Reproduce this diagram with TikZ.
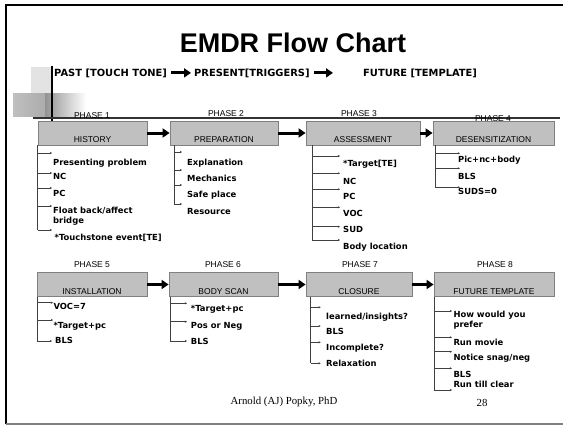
\documentclass[tikz,border=0pt]{standalone}
\usepackage{fontspec}
\setmainfont{Liberation Serif}
\newfontfamily\verdanafont{DejaVu Sans}
\newfontfamily\tahomafont{Liberation Sans}
\usetikzlibrary{arrows.meta,positioning}

\definecolor{boxgray}{RGB}{192,192,192}
\definecolor{edgegray}{RGB}{128,128,128}

\tikzset{
  phasebox/.style={draw=edgegray, fill=boxgray, line width=0.8pt, minimum height=24pt,
    inner xsep=0pt, inner ysep=2.5pt, text height=19pt, text depth=0pt,
    font=\tahomafont\fontsize{8.5}{10}\selectfont},
  phaselabel/.style={inner sep=0pt, font=\tahomafont\fontsize{8.5}{10}\selectfont},
  subtitle/.style={anchor=base west, inner sep=0pt, font=\verdanafont\bfseries\fontsize{9.9}{12}\selectfont},
  item/.style={anchor=base west, inner sep=0pt, align=left,
    font=\verdanafont\bfseries\fontsize{8.4}{10}\selectfont},
  trunk/.style={draw=black!75, line width=0.7pt},
  branch/.style={trunk, -{Stealth[length=2.2pt,width=2.2pt]}},
  flow/.style={line width=3pt, -{Triangle[length=7pt,width=9pt]}},
}

\begin{document}
\begin{tikzpicture}[x=1pt, y=-1pt]
  \useasboundingbox (0,0) rectangle (563,426);

  % slide frame and corner decoration
  \draw[line width=2pt] (6,424) -- (6,5) -- (563,5);
  \draw[edgegray, line width=1.5pt] (6,424) -- (563,424);
  \fill[gray!22] (31,67) rectangle (53,93);
  \shade[left color=gray!50, right color=gray!65] (13,93) rectangle (45,116);
  \shade[left color=gray!85, right color=white] (45,93) rectangle (86,117);
  \draw[line width=1.2pt] (52,66) -- (52,123);
  \draw[black!80, line width=2pt] (33,118) -- (560,118);

  % title
  \node[font=\tahomafont\bfseries\fontsize{27}{30}\selectfont] (title) at (293,43) {EMDR Flow Chart};

  \node[subtitle] (tpast) at (54,76) {PAST [TOUCH TONE]};
  \node[subtitle] (tpresent) at (194,76) {PRESENT[TRIGGERS]};
  \node[subtitle] (tfuture) at (363,76) {FUTURE [TEMPLATE]};
  \draw[flow, shorten <=4pt, shorten >=3pt] (tpast) -- (tpresent);
  \draw[flow, shorten <=4pt, shorten >=30pt] (tpresent) -- (tfuture);

  % phases
  \node[phaselabel] (ph1) at (92,116) {PHASE 1};
  \node[phaselabel] (ph2) at (226,114) {PHASE 2};
  \node[phaselabel] (ph3) at (359,114) {PHASE 3};
  \node[phaselabel] (ph4) at (493,119) {PHASE 4};
  \node[phaselabel] (ph5) at (92,265) {PHASE 5};
  \node[phaselabel] (ph6) at (223,265) {PHASE 6};
  \node[phaselabel] (ph7) at (360,265) {PHASE 7};
  \node[phaselabel] (ph8) at (495,265) {PHASE 8};

  \node[phasebox, minimum width=109pt] (history) at (92.5,133) {HISTORY};
  \node[phasebox, minimum width=108pt] (prep) at (224,133) {PREPARATION};
  \node[phasebox, minimum width=114pt] (assess) at (363,133) {ASSESSMENT};
  \node[phasebox, minimum width=121pt] (desens) at (493.5,133) {DESENSITIZATION};
  \node[phasebox, minimum width=110pt] (install) at (92,284.5) {INSTALLATION};
  \node[phasebox, minimum width=109pt] (bodyscan) at (223.5,284.5) {BODY SCAN};
  \node[phasebox, minimum width=106pt] (closure) at (359,284.5) {CLOSURE};
  \node[phasebox, minimum width=120pt] (template) at (494,284.5) {FUTURE TEMPLATE};

  \draw[flow] (history) -- (prep);
  \draw[flow] (prep) -- (assess);
  \draw[flow] (assess) -- (desens);
  \draw[flow] (install) -- (bodyscan);
  \draw[flow] (bodyscan) -- (closure);
  \draw[flow] (closure) -- (template);

  % phase 1
  \coordinate (t1) at (37.5,145);
  \node[item] (h1) at (53,165.3) {Presenting problem};  \coordinate (h1b) at (52,153);
  \node[item] (h2) at (53,179.7) {NC};                  \coordinate (h2b) at (52,173);
  \node[item] (h3) at (53,196.3) {PC};                  \coordinate (h3b) at (52,188);
  \node[item] (h4) at (53,223) {Float back/affect\\bridge}; \coordinate (h4b) at (52,206);
  \node[item] (h5) at (54.5,240.7) {*Touchstone event[TE]}; \coordinate (h5b) at (52,230);
  \draw[trunk] (t1) -- (t1 |- h5b);
  \draw[branch] (t1 |- h1b) -- (h1b);
  \draw[branch] (t1 |- h2b) -- (h2b);
  \draw[branch] (t1 |- h3b) -- (h3b);
  \draw[branch] (t1 |- h4b) -- (h4b);
  \draw[branch] (t1 |- h5b) -- (h5b);

  % phase 2
  \coordinate (t2) at (174,145);
  \node[item] (p1) at (187,165) {Explanation};  \coordinate (p1b) at (182,152);
  \node[item] (p2) at (187,181) {Mechanics};    \coordinate (p2b) at (182,170);
  \node[item] (p3) at (187,197) {Safe place};   \coordinate (p3b) at (182,185);
  \node[item] (p4) at (187,214) {Resource};     \coordinate (p4b) at (182,204);
  \draw[trunk] (t2) -- (t2 |- p4b);
  \draw[branch] (t2 |- p1b) -- (p1b);
  \draw[branch] (t2 |- p2b) -- (p2b);
  \draw[branch] (t2 |- p3b) -- (p3b);
  \draw[branch] (t2 |- p4b) -- (p4b);

  % phase 3
  \coordinate (t3) at (312,145);
  \node[item] (a1) at (343,166.3) {*Target[TE]};   \coordinate (a1b) at (340,156);
  \node[item] (a2) at (343,184) {NC};              \coordinate (a2b) at (340,173.3);
  \node[item] (a3) at (343,199.7) {PC};            \coordinate (a3b) at (340,189.3);
  \node[item] (a4) at (343,216.3) {VOC};           \coordinate (a4b) at (340,207.3);
  \node[item] (a5) at (343,232.3) {SUD};           \coordinate (a5b) at (340,226.7);
  \node[item] (a6) at (343,249) {Body location};   \coordinate (a6b) at (340,240);
  \draw[trunk] (t3) -- (t3 |- a6b);
  \draw[branch] (t3 |- a1b) -- (a1b);
  \draw[branch] (t3 |- a2b) -- (a2b);
  \draw[branch] (t3 |- a3b) -- (a3b);
  \draw[branch] (t3 |- a4b) -- (a4b);
  \draw[branch] (t3 |- a5b) -- (a5b);
  \draw[branch] (t3 |- a6b) -- (a6b);

  % phase 4
  \coordinate (t4) at (435,145);
  \node[item] (d1) at (458,162.3) {Pic+nc+body};  \coordinate (d1b) at (460,153.3);
  \node[item] (d2) at (458,179.7) {BLS};          \coordinate (d2b) at (460,168.3);
  \node[item] (d3) at (458,194.7) {SUDS=0};       \coordinate (d3b) at (460,187.3);
  \draw[trunk] (t4) -- (t4 |- d3b);
  \draw[branch] (t4 |- d1b) -- (d1b);
  \draw[branch] (t4 |- d2b) -- (d2b);
  \draw[branch] (t4 |- d3b) -- (d3b);

  % phase 5
  \coordinate (t5) at (37.3,296.5);
  \node[item] (i1) at (53.3,309.7) {VOC=7};       \coordinate (i1b) at (53,302.7);
  \node[item] (i2) at (53.3,328) {*Target+pc};    \coordinate (i2b) at (53,320);
  \node[item] (i3) at (55,343) {BLS};             \coordinate (i3b) at (52,341);
  \draw[trunk] (t5) -- (t5 |- i3b);
  \draw[branch] (t5 |- i1b) -- (i1b);
  \draw[branch] (t5 |- i2b) -- (i2b);
  \draw[branch] (t5 |- i3b) -- (i3b);

  % phase 6
  \coordinate (t6) at (170,296.5);
  \node[item] (s1) at (190.7,311.3) {*Target+pc};  \coordinate (s1b) at (187,303.3);
  \node[item] (s2) at (190.7,328) {Pos or Neg};    \coordinate (s2b) at (187,321.7);
  \node[item] (s3) at (190.7,344) {BLS};           \coordinate (s3b) at (187,341);
  \draw[trunk] (t6) -- (t6 |- s3b);
  \draw[branch] (t6 |- s1b) -- (s1b);
  \draw[branch] (t6 |- s2b) -- (s2b);
  \draw[branch] (t6 |- s3b) -- (s3b);

  % phase 7
  \coordinate (t7) at (310.7,296.5);
  \node[item] (c1) at (326,319) {learned/insights?};  \coordinate (c1b) at (320.7,307.3);
  \node[item] (c2) at (326,334) {BLS};                \coordinate (c2b) at (320.7,326);
  \node[item] (c3) at (326,350.7) {Incomplete?};      \coordinate (c3b) at (320.7,342.3);
  \node[item] (c4) at (326,366.3) {Relaxation};       \coordinate (c4b) at (320.7,363.3);
  \draw[trunk] (t7) -- (t7 |- c4b);
  \draw[branch] (t7 |- c1b) -- (c1b);
  \draw[branch] (t7 |- c2b) -- (c2b);
  \draw[branch] (t7 |- c3b) -- (c3b);
  \draw[branch] (t7 |- c4b) -- (c4b);

  % phase 8
  \coordinate (t8) at (434,296.5);
  \node[item] (f1) at (453.3,327.5) {How would you\\prefer}; \coordinate (f1b) at (452,311);
  \node[item] (f2) at (453.3,345.3) {Run movie};          \coordinate (f2b) at (452,337.3);
  \node[item] (f3) at (453.3,360.7) {Notice snag/neg};    \coordinate (f3b) at (452,351.7);
  \node[item] (f4) at (453.3,377.5) {BLS};                \coordinate (f4b) at (452,368.3);
  \node[item] (f5) at (453.3,387.5) {Run till clear};     \coordinate (f5b) at (452,390);
  \draw[trunk] (t8) -- (t8 |- f5b);
  \draw[branch] (t8 |- f1b) -- (f1b);
  \draw[branch] (t8 |- f2b) -- (f2b);
  \draw[branch] (t8 |- f3b) -- (f3b);
  \draw[branch] (t8 |- f4b) -- (f4b);
  \draw[branch] (t8 |- f5b) -- (f5b);

  % footer
  \node[font=\fontsize{10.8}{12}\selectfont] (author) at (284,402) {Arnold (AJ) Popky, PhD};
  \node[font=\fontsize{10.8}{12}\selectfont] (page) at (482,403) {28};
\end{tikzpicture}
\end{document}
